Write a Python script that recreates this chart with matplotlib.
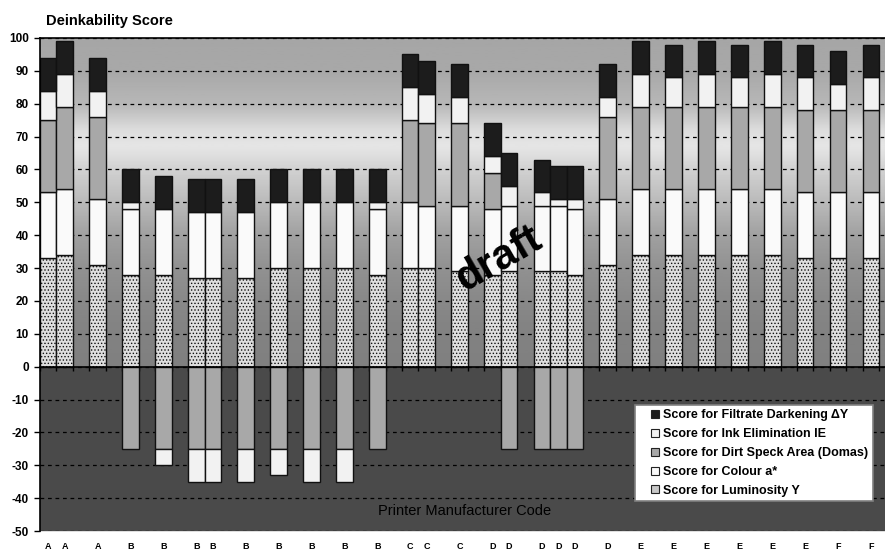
import numpy as np
import matplotlib
matplotlib.use('Agg')
import matplotlib.pyplot as plt
from matplotlib.lines import Line2D

# category axis (blank entries are empty category slots)
labels = ['A', 'A', '', 'A', '', 'B', '', 'B', '', 'B', 'B', '', 'B', '', 'B', '', 'B', '', 'B', '', 'B', '',
          'C', 'C', '', 'C', '', 'D', 'D', '', 'D', 'D', 'D', '', 'D', '',
          'E', '', 'E', '', 'E', '', 'E', '', 'E', '', 'E', '', 'F', '', 'F']

# one value per printed bar, in order of the non-blank labels
lum = [33, 34, 31, 28, 28, 27, 27, 27, 30, 30, 30, 28, 30, 30, 29,
       28, 29, 29, 29, 28, 31, 34, 34, 34, 34, 34, 33, 33, 33]
colour = [20, 20, 20, 20, 20, 20, 20, 20, 20, 20, 20, 20, 20, 19, 20,
          20, 20, 20, 20, 20, 20, 20, 20, 20, 20, 20, 20, 20, 20]
dirt = [22, 25, 25, -25, -25, -25, -25, -25, -25, -25, -25, -25, 25, 25, 25,
        11, -25, -25, -25, -25, 25, 25, 25, 25, 25, 25, 25, 25, 25]
ink = [9, 10, 8, 2, -5, -10, -10, -10, -8, -10, -10, 2, 10, 9, 8,
       5, 6, 4, 2, 3, 6, 10, 9, 10, 9, 10, 10, 8, 10]
filt = [10, 10, 10, 10, 10, 10, 10, 10, 10, 10, 10, 10, 10, 10, 10,
        10, 10, 10, 10, 10, 10, 10, 10, 10, 10, 10, 10, 10, 10]

series = [
    ('Score for Luminosity Y', lum, '#dedede', '.....'),
    ('Score for Colour a*', colour, '#fafafa', None),
    ('Score for Dirt Speck Area (Domas)', dirt, '#a8a8a8', None),
    ('Score for Ink Elimination IE', ink, '#f2f2f2', None),
    ('Score for Filtrate Darkening \u0394Y', filt, '#1c1c1c', None),
]

plt.rcParams['font.family'] = ['Liberation Sans', 'DejaVu Sans']
plt.rcParams['hatch.linewidth'] = 0.6
plt.rcParams['axes.unicode_minus'] = False

x = np.arange(len(labels))
has = np.array([l != '' for l in labels])
xb = x[has]

fig = plt.figure(figsize=(8.85, 5.52), dpi=100)
ax = fig.add_axes([40 / 885, 21 / 552, 845 / 885, 493 / 552])
x0, x1 = -0.5, 50.85

# background: gradient above zero, dark band below
gy = np.linspace(0, 100, 200)
gv = np.interp(gy, [0, 10, 20, 30, 40, 50, 60, 67, 72, 80, 90, 100],
               [0.50, 0.51, 0.535, 0.57, 0.63, 0.73, 0.82, 0.90, 0.87, 0.72, 0.66, 0.65])
ax.imshow(gv[:, None], cmap='gray', vmin=0, vmax=1, origin='lower', aspect='auto',
          extent=[x0, x1, 0, 100], zorder=0)
ax.axhspan(-50, 0, color='#4a4a4a', zorder=0.1)

ax.set_axisbelow(True)
ax.yaxis.grid(True, color='black', linestyle=(0, (3, 3)), linewidth=0.9)

pos = np.zeros(len(xb))
neg = np.zeros(len(xb))
for name, vals, fc, hatch in series:
    v = np.array(vals, dtype=float)
    b = np.where(v >= 0, pos, neg)
    ax.bar(xb, v, width=1.0, bottom=b, color=fc, edgecolor='#111111',
           linewidth=1.0, hatch=hatch, zorder=2)
    pos += np.clip(v, 0, None)
    neg += np.clip(v, None, 0)

ax.set_xlim(x0, x1)
ax.set_ylim(-50, 100)
ax.set_yticks(np.arange(-50, 101, 10))
ax.tick_params(axis='y', length=4, width=1, pad=4, labelsize=8.5)
for t in ax.get_yticklabels():
    t.set_fontweight('bold')

ax.spines['bottom'].set_position(('data', 0))
ax.spines['bottom'].set_zorder(3)
ax.spines['right'].set_visible(False)
ax.spines['top'].set_linewidth(1.2)
ax.spines['left'].set_linewidth(1.2)
ax.spines['bottom'].set_linewidth(1.2)
ax.set_xticks(np.arange(-0.5, 51, 1))
ax.tick_params(axis='x', length=3, width=1, labelbottom=False)

sec = ax.secondary_xaxis(0)
sec.set_xticks(xb, [l for l in labels if l])
sec.tick_params(length=0, pad=8, labelsize=6.5)
for t in sec.get_xticklabels():
    t.set_fontweight('bold')
sec.spines['bottom'].set_color('#d8d8d8')
sec.spines['bottom'].set_linewidth(1.2)

fig.text(46 / 885, 1 - 21 / 552, 'Deinkability Score', fontsize=10.5, fontweight='bold', va='center')
ax.text(0.503, 0.04, 'Printer Manufacturer Code', transform=ax.transAxes,
        ha='center', va='center', fontsize=10.5, color='black')
ax.text(499, 293, 'draft', transform=None, fontsize=30, fontweight='bold',
        rotation=30, ha='center', va='center', zorder=5)

handles = [Line2D([], [], marker='s', linestyle='none', markersize=5.5,
                  markerfacecolor=fc if fc != '#dedede' else '#c8c8c8',
                  markeredgecolor='#222222', markeredgewidth=0.8)
           for name, vals, fc, hatch in series][::-1]
names = [s[0] for s in series][::-1]
leg = ax.legend(handles, names, loc='center', bbox_to_anchor=(0.845, 0.158),
                prop={'family': ['Liberation Sans Narrow', 'Liberation Sans', 'DejaVu Sans'],
                      'weight': 'bold', 'size': 9},
                frameon=True, fancybox=False, framealpha=1, edgecolor='#808080',
                borderpad=0.35, labelspacing=0.55, handlelength=2.5, handletextpad=-0.6)
leg.get_frame().set_linewidth(1.2)
leg.set_zorder(6)

fig.savefig('out.png', dpi=100)
